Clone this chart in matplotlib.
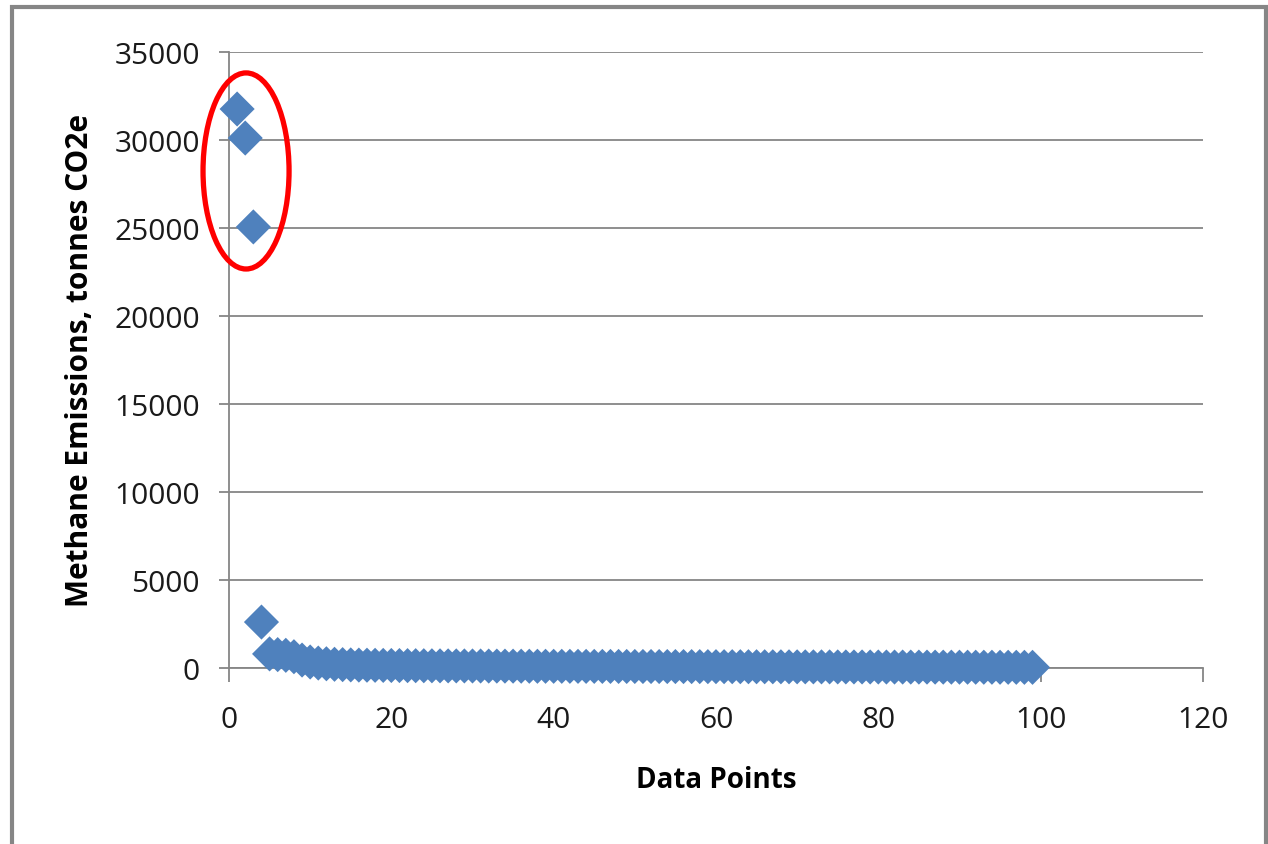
import matplotlib.pyplot as plt
from matplotlib.patches import Ellipse, Rectangle

# methane emissions per data point (tonnes CO2e), sorted descending
emissions = [
    31760, 30110, 25060, 2610, 800, 760, 720, 640, 450, 340,
    280, 240, 210, 190, 175, 165, 158, 152, 147, 142,
    138, 134, 131, 128, 125, 122, 120, 118, 116, 114,
    112, 110, 108, 106, 104, 102, 100, 98, 97, 96,
    95, 94, 93, 92, 91, 90, 89, 88, 87, 86,
    85, 84, 83, 82, 81, 80, 79, 78, 77, 76,
    75, 74, 73, 72, 71, 70, 69, 68, 67, 66,
    65, 64, 63, 62, 61, 60, 59, 58, 57, 56,
    55, 54, 53, 52, 51, 50, 49, 48, 47, 46,
    45, 44, 43, 42, 41, 40, 39, 38, 37,
]
points = list(range(1, len(emissions) + 1))
x_ticks = [0, 20, 40, 60, 80, 100, 120]
y_ticks = [0, 5000, 10000, 15000, 20000, 25000, 30000, 35000]

plt.rcParams['font.family'] = ['Open Sans', 'DejaVu Sans']

fig = plt.figure(figsize=(12.68, 8.45), dpi=100)
ax = fig.add_axes([0.1806, 0.2083, 0.7681, 0.729])

ax.scatter(points, emissions, marker='D', s=320, color='#4F81BD',
           edgecolors='none', zorder=3, clip_on=False)

# circle the outliers
ax.add_patch(Ellipse((2.1, 28240), 10.6, 11140, fill=False,
                     edgecolor='#FF0000', linewidth=3.8, zorder=4, clip_on=False))

ax.set_xlim(0, 120)
ax.set_ylim(0, 35000)
ax.set_xticks(x_ticks)
ax.set_yticks(y_ticks)
ax.tick_params(labelsize=21.5, colors='#868686', labelcolor='#1a1a1a',
               width=1.3, direction='out')
ax.tick_params(axis='x', length=10, pad=17)
ax.tick_params(axis='y', length=7, pad=14)
ax.yaxis.grid(True, color='#868686', linewidth=1.3)
ax.set_axisbelow(True)
for s in ['top', 'right']:
    ax.spines[s].set_visible(False)
for s in ['left', 'bottom']:
    ax.spines[s].set_color('#868686')
    ax.spines[s].set_linewidth(1.3)

ax.set_xlabel('Data Points', fontsize=20, fontweight='bold', labelpad=22)
ax.set_ylabel('Methane Emissions, tonnes CO2e', fontsize=21.5, fontweight='bold', labelpad=14)

# chart-area border
fig.patches.append(Rectangle((0.0095, -0.01), 0.989, 1.0, transform=fig.transFigure,
                             fill=False, edgecolor='#868686', linewidth=3))

fig.savefig('out.png', dpi=100)
